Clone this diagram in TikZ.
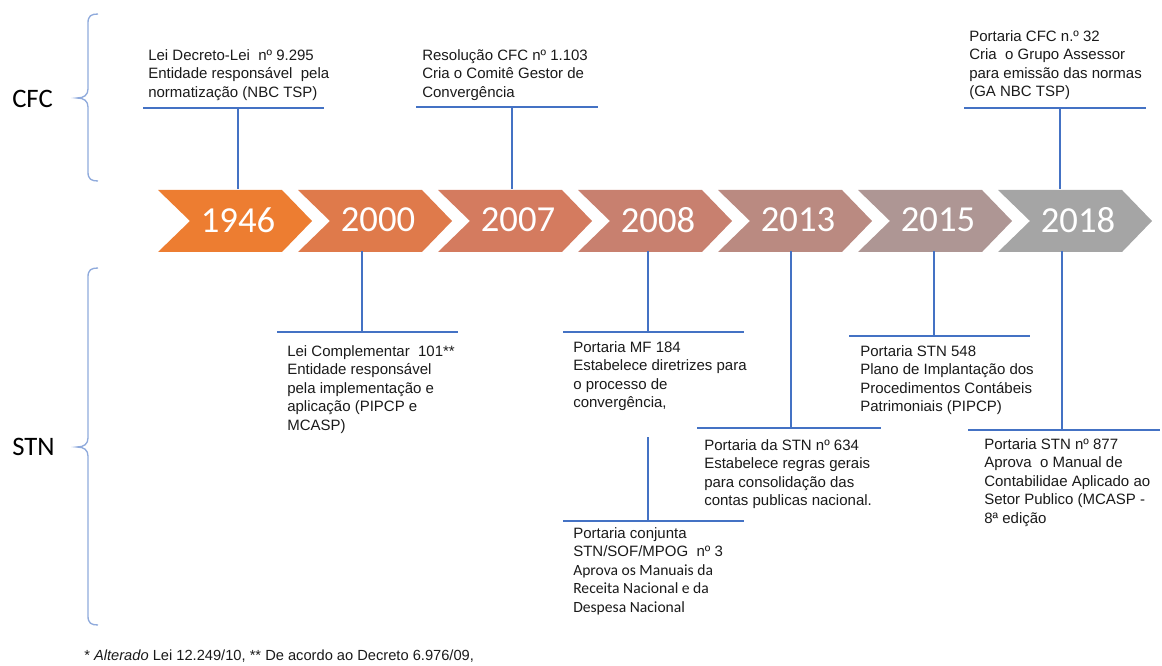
\documentclass[tikz,border=0pt]{standalone}
\usepackage{fontspec}
\setmainfont{Liberation Sans}
\newfontfamily\calibri{Carlito}
\definecolor{ch1}{HTML}{ED7D31}
\definecolor{ch2}{HTML}{DF7A4B}
\definecolor{ch3}{HTML}{D47B5F}
\definecolor{ch4}{HTML}{C8806F}
\definecolor{ch5}{HTML}{BA8A81}
\definecolor{ch6}{HTML}{AE9694}
\definecolor{ch7}{HTML}{A5A5A5}
\definecolor{conncol}{HTML}{4472C4}
\definecolor{bracecol}{HTML}{8FAADC}
\definecolor{txtcol}{HTML}{1A1A1A}
\tikzset{
  yr/.style={font=\calibri\fontsize{27.5}{30}\selectfont, text=white, minimum height=46.5pt, inner sep=0pt},
  lbl/.style={anchor=north west, inner sep=0pt, align=left, text=txtcol, font=\fontsize{11.25}{13.9}\selectfont},
  grp/.style={font=\calibri\fontsize{20}{24}\selectfont, text=black, inner sep=0pt},
  conn/.style={draw=conncol, line width=0.9pt},
  bracepath/.style={draw=bracecol, line width=1pt},
  foot/.style={anchor=north west, inner sep=0pt, text=txtcol, font=\fontsize{11}{13}\selectfont}
}
\begin{document}
\begin{tikzpicture}[x=0.75pt,y=-0.75pt]
\useasboundingbox (0,0) rectangle (1162,666);
% chevrons
\foreach \i/\yr/\col in {0/1946/ch1,1/2000/ch2,2/2007/ch3,3/2008/ch4,4/2013/ch5,5/2015/ch6,6/2018/ch7}{
  \pgfmathsetmacro\L{158+140*\i}
  \fill[\col] (\L,190) -- ++(124,0) -- ++(30,31) -- ++(-30,31) -- ++(-124,0) -- ++(32,-31) -- cycle;
  \node[yr] (c\yr) at (\L+80,220) {\yr};
}
% group labels
\node[grp, anchor=west] (cfc) at (12,99) {CFC};
\node[grp, anchor=west] (stn) at (12,447) {STN};
% braces
\draw[bracepath] (98,14) .. controls (91,14) and (88,16) .. (88,23) -- (88,89) .. controls (88,95) and (84,98) .. (77,98) .. controls (84,98) and (88,101) .. (88,107) -- (88,172) .. controls (88,179) and (91,181) .. (98,181);
\draw[bracepath] (98,268) .. controls (91,268) and (88,270) .. (88,277) -- (88,438) .. controls (88,444) and (84,447) .. (77,447) .. controls (84,447) and (88,450) .. (88,456) -- (88,616) .. controls (88,623) and (91,625) .. (98,625);
% labels
\node[lbl] (t1946) at (148,49) {Lei Decreto-Lei\ \ nº 9.295\\Entidade responsável\ \ pela\\normatização (NBC TSP)};
\node[lbl] (t2007) at (422,49) {Resolução CFC nº 1.103\\Cria o Comitê Gestor de\\Convergência};
\node[lbl] (t2018a) at (969,30) {Portaria CFC n.º 32\\Cria\ \ o Grupo Assessor\\para emissão das normas\\(GA NBC TSP)};
\node[lbl] (t2000) at (287,345) {Lei Complementar\ \ 101**\\Entidade responsável\\pela implementação e\\aplicação (PIPCP e\\MCASP)};
\node[lbl] (t2008a) at (573,341) {Portaria MF 184\\Estabelece diretrizes para\\o processo de\\convergência,};
\node[lbl] (t2013) at (704,439) {Portaria da STN nº 634\\Estabelece regras gerais\\para consolidação das\\contas publicas nacional.};
\node[lbl] (t2015) at (860,345) {Portaria STN 548\\Plano de Implantação dos\\Procedimentos Contábeis\\Patrimoniais (PIPCP)};
\node[lbl] (t2018b) at (984,438) {Portaria STN nº 877\\Aprova\ \ o Manual de\\Contabilidae Aplicado ao\\Setor Publico (MCASP -\\8ª edição};
\node[lbl] (t2008b) at (573,527) {Portaria conjunta\\STN/SOF/MPOG\ \ nº 3\\{\calibri\fontsize{11.7}{13.9}\selectfont Aprova os Manuais da}\\{\calibri\fontsize{11.7}{13.9}\selectfont Receita Nacional e da}\\{\calibri\fontsize{11.7}{13.9}\selectfont Despesa Nacional}};
\node[foot] (fn) at (84,650) {* \textit{Alterado} Lei 12.249/10, ** De acordo ao Decreto 6.976/09,};
% bars and connectors (top)
\coordinate (a1L) at (143,108); \coordinate (a1R) at (324,108); \coordinate (a1J) at (238,108);
\coordinate (a2L) at (416,107); \coordinate (a2R) at (598,107); \coordinate (a2J) at (512,107);
\coordinate (a3L) at (964,108); \coordinate (a3R) at (1146,108); \coordinate (a3J) at (1060,108);
\draw[conn] (a1L) -- (a1R); \draw[conn] (a1J) -- (a1J |- c1946.north);
\draw[conn] (a2L) -- (a2R); \draw[conn] (a2J) -- (a2J |- c2007.north);
\draw[conn] (a3L) -- (a3R); \draw[conn] (a3J) -- (a3J |- c2018.north);
% bars and connectors (bottom)
\coordinate (b1L) at (277,332); \coordinate (b1R) at (458,332); \coordinate (b1J) at (362,332);
\coordinate (b2L) at (563,332); \coordinate (b2R) at (744,332); \coordinate (b2J) at (648,332);
\coordinate (b3L) at (563,521); \coordinate (b3R) at (744,521); \coordinate (b3J) at (648,521); \coordinate (b3T) at (648,437);
\coordinate (b4L) at (697,428); \coordinate (b4R) at (881,428); \coordinate (b4J) at (791,428);
\coordinate (b5L) at (849,336); \coordinate (b5R) at (1030,336); \coordinate (b5J) at (934,336);
\coordinate (b6L) at (968,430); \coordinate (b6R) at (1160,430); \coordinate (b6J) at (1062,430);
\draw[conn] (b1L) -- (b1R); \draw[conn] (b1J) -- (b1J |- c2000.south);
\draw[conn] (b2L) -- (b2R); \draw[conn] (b2J) -- (b2J |- c2008.south);
\draw[conn] (b3L) -- (b3R); \draw[conn] (b3J) -- (b3T);
\draw[conn] (b4L) -- (b4R); \draw[conn] (b4J) -- (b4J |- c2013.south);
\draw[conn] (b5L) -- (b5R); \draw[conn] (b5J) -- (b5J |- c2015.south);
\draw[conn] (b6L) -- (b6R); \draw[conn] (b6J) -- (b6J |- c2018.south);
\end{tikzpicture}
\end{document}
